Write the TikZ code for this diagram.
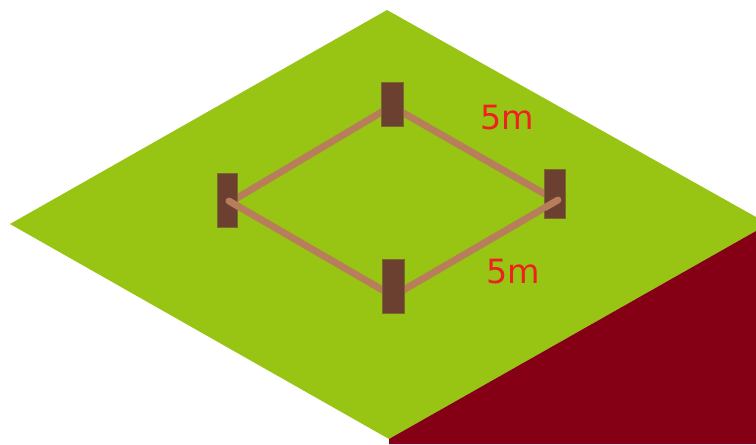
\documentclass[tikz,border=0pt]{standalone}
\usepackage{fontspec}
\setmainfont{DejaVu Sans}
\definecolor{grass}{HTML}{98C413}
\definecolor{soil}{HTML}{850014}
\definecolor{post}{HTML}{6B4030}
\definecolor{postedge}{HTML}{7A6A2A}
\definecolor{rail}{HTML}{B87D5A}
\definecolor{lab}{HTML}{EE2020}
\tikzset{
  px/.style={x=0.75pt,y=-0.75pt},
  postbox/.style={fill=post,draw=postedge,line width=0.5pt},
  railline/.style={draw=rail,line width=5.2pt},
  dim/.style={text=lab,font=\fontsize{25}{25}\selectfont,inner sep=0pt}
}
\begin{document}
\begin{tikzpicture}[px]
\useasboundingbox (0,0) rectangle (756,444);
\fill[white] (0,0) rectangle (756,444);
\fill[grass] (387,10) -- (756,217) -- (756,231) -- (389,439) -- (10,224) -- cycle;
\fill[soil] (756,231) -- (756,444) -- (389,444) -- (389,439) -- cycle;
\coordinate (tl) at (385,110);
\coordinate (tr) at (400,111);
\coordinate (rt) at (550,197);
\coordinate (lt) at (232,201);
\coordinate (lb) at (229,201);
\coordinate (bl) at (386,292);
\coordinate (br) at (400,292);
\coordinate (rb) at (558,200);
\draw[railline] (lt) -- (tl);
\draw[railline] (tr) -- (rt);
\draw[railline] (lb) -- (bl);
\draw[railline] (br) -- (rb);
\fill[postbox] (381,82.5) rectangle (403,126);
\draw[postbox] (381,82.5) rectangle (403,126);
\draw[postbox] (217,173.5) rectangle (237,227);
\draw[postbox] (544.5,169.5) rectangle (565,218.5);
\draw[postbox] (382,259.5) rectangle (404,313);
\draw[railline,line cap=round] (229,201) -- (240,207.5);
\draw[railline,line cap=round] (558,200) -- (545,207.5);
\node[dim] (a) at (507,118) {5m};
\node[dim] (c) at (513,272) {5m};
\end{tikzpicture}
\end{document}
